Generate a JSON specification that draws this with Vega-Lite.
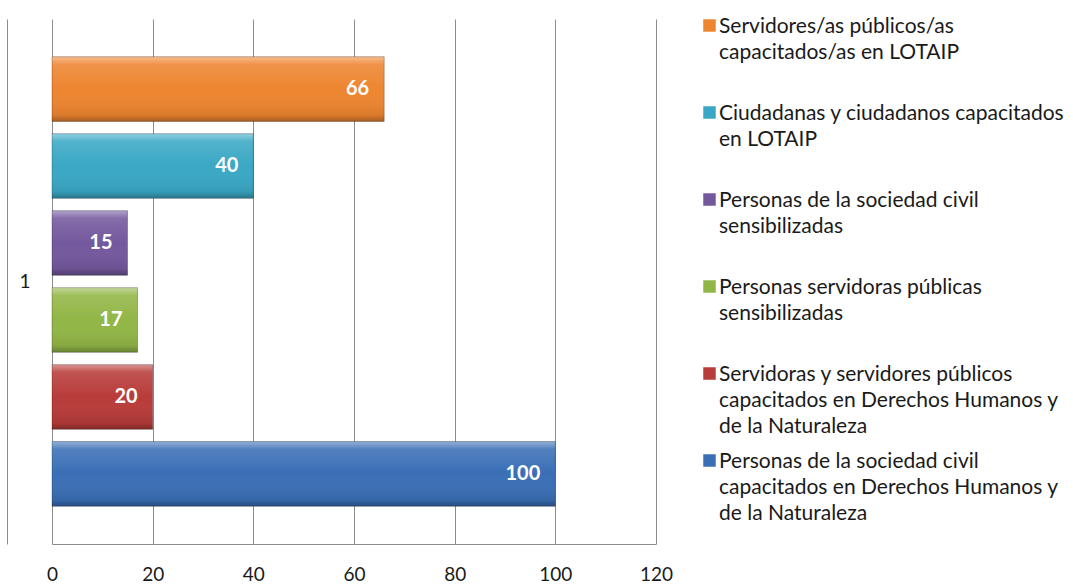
{
  "$schema": "https://vega.github.io/schema/vega-lite/v6.json",
  "width": 604,
  "height": 525,
  "autosize": "none",
  "padding": {"left": 52, "top": 19, "right": 417, "bottom": 41},
  "background": "white",
  "config": {
    "view": {"stroke": null},
    "font": "Lato",
    "style": {"guide-label": {"lineHeight": 26}}
  },
  "data": {
    "values": [
      {"grupo": "1", "serie": "Servidores/as públicos/as capacitados/as en LOTAIP", "valor": 66},
      {"grupo": "1", "serie": "Ciudadanas y ciudadanos capacitados en LOTAIP", "valor": 40},
      {"grupo": "1", "serie": "Personas de la sociedad civil sensibilizadas", "valor": 15},
      {"grupo": "1", "serie": "Personas servidoras públicas sensibilizadas", "valor": 17},
      {"grupo": "1", "serie": "Servidoras y servidores públicos capacitados en Derechos Humanos y de la Naturaleza", "valor": 20},
      {"grupo": "1", "serie": "Personas de la sociedad civil capacitados en Derechos Humanos y de la Naturaleza", "valor": 100}
    ]
  },
  "encoding": {
    "y": {
      "field": "grupo",
      "type": "nominal",
      "scale": {"paddingInner": 0, "paddingOuter": 0},
      "axis": {
        "title": null,
        "ticks": false,
        "offset": 45,
        "domainColor": "#8c8c8c",
        "labelPadding": -23,
        "labelFontSize": 19,
        "labelColor": "#1a1a1a"
      }
    },
    "yOffset": {
      "field": "serie",
      "type": "nominal",
      "sort": [
        "Servidores/as públicos/as capacitados/as en LOTAIP",
        "Ciudadanas y ciudadanos capacitados en LOTAIP",
        "Personas de la sociedad civil sensibilizadas",
        "Personas servidoras públicas sensibilizadas",
        "Servidoras y servidores públicos capacitados en Derechos Humanos y de la Naturaleza",
        "Personas de la sociedad civil capacitados en Derechos Humanos y de la Naturaleza"
      ],
      "scale": {"paddingInner": 0.16, "paddingOuter": 0.49}
    },
    "x": {
      "field": "valor",
      "type": "quantitative",
      "scale": {"domain": [0, 120]},
      "axis": {
        "title": null,
        "values": [0, 20, 40, 60, 80, 100, 120],
        "ticks": false,
        "grid": true,
        "gridColor": "#8c8c8c",
        "domainColor": "#8c8c8c",
        "labelFlush": false,
        "labelPadding": 21,
        "labelFontSize": 19,
        "labelColor": "#1a1a1a"
      }
    }
  },
  "layer": [
    {
      "mark": {"type": "bar"},
      "encoding": {
        "color": {
          "field": "serie",
          "type": "nominal",
          "scale": {
            "domain": [
              "Servidores/as públicos/as capacitados/as en LOTAIP",
              "Ciudadanas y ciudadanos capacitados en LOTAIP",
              "Personas de la sociedad civil sensibilizadas",
              "Personas servidoras públicas sensibilizadas",
              "Servidoras y servidores públicos capacitados en Derechos Humanos y de la Naturaleza",
              "Personas de la sociedad civil capacitados en Derechos Humanos y de la Naturaleza"
            ],
            "range": ["#EE8530", "#3AA8C5", "#74589E", "#92B646", "#B83C39", "#3A6FB6"]
          },
          "legend": {
            "title": null,
            "orient": "right",
            "offset": 47,
            "padding": -4,
            "symbolType": "square",
            "symbolSize": 156,
            "symbolStrokeWidth": 0,
            "labelFontSize": 21,
            "labelColor": "#1a1a1a",
            "labelLimit": 400,
            "labelOffset": -1,
            "rowPadding": 13,
            "labelBaseline": "top",
            "encoding": {"labels": {"dy": {"value": -10}}},
            "labelExpr": "datum.label == 'Servidores/as públicos/as capacitados/as en LOTAIP' ? ['Servidores/as públicos/as', 'capacitados/as en LOTAIP', ' '] : datum.label == 'Ciudadanas y ciudadanos capacitados en LOTAIP' ? ['Ciudadanas y ciudadanos capacitados', 'en LOTAIP', ' '] : datum.label == 'Personas de la sociedad civil sensibilizadas' ? ['Personas de la sociedad civil', 'sensibilizadas', ' '] : datum.label == 'Personas servidoras públicas sensibilizadas' ? ['Personas servidoras públicas', 'sensibilizadas', ' '] : datum.label == 'Servidoras y servidores públicos capacitados en Derechos Humanos y de la Naturaleza' ? ['Servidoras y servidores públicos', 'capacitados en Derechos Humanos y', 'de la Naturaleza'] : ['Personas de la sociedad civil', 'capacitados en Derechos Humanos y', 'de la Naturaleza']"
          }
        }
      }
    },
    {
      "mark": {
        "type": "bar",
        "color": {
          "gradient": "linear",
          "x1": 0, "y1": 0, "x2": 0, "y2": 1,
          "stops": [
            {"offset": 0, "color": "rgba(255,255,255,0.45)"},
            {"offset": 0.12, "color": "rgba(255,255,255,0.12)"},
            {"offset": 0.5, "color": "rgba(255,255,255,0)"},
            {"offset": 0.9, "color": "rgba(0,0,0,0.08)"},
            {"offset": 1, "color": "rgba(0,0,0,0.3)"}
          ]
        },
        "stroke": "rgba(0,0,0,0.25)",
        "strokeWidth": 1
      },
      "encoding": {}
    },
    {
      "mark": {"type": "text", "align": "right", "dx": -15, "color": "white", "fontWeight": "bold", "fontSize": 20},
      "encoding": {"text": {"field": "valor", "type": "quantitative"}}
    }
  ]
}
